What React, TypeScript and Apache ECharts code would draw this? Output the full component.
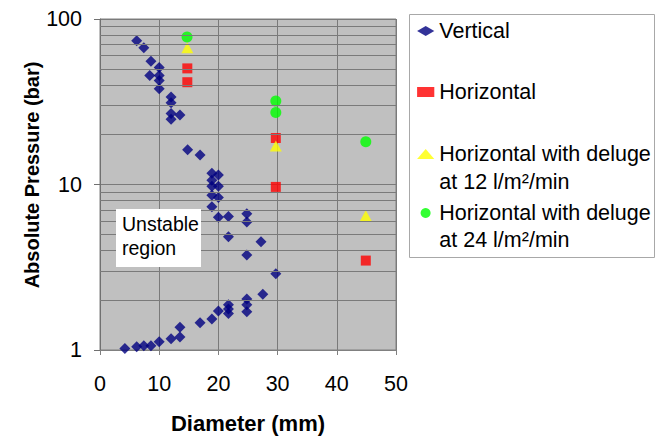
import React, { useEffect, useRef } from "react";
import * as echarts from "echarts";

const FONT = "'Liberation Sans', Arial, sans-serif";

// Vertical release (diamonds)
const verticalDiameter = [
  6.2, 7.4, 8.6, 10.0, 8.4, 10.0, 10.0, 10.0, 12.0, 12.0, 12.0, 13.5, 12.0,
  14.8, 16.9, 18.9, 20.0, 18.9, 18.9, 20.0, 18.9, 20.0, 18.9, 20.0, 21.7, 21.7,
  24.8, 24.8, 27.2, 24.8,
  4.2, 6.2, 7.4, 8.6, 10.0, 12.0, 13.5, 13.5, 16.9, 18.9, 20.0, 21.7, 21.7, 21.7,
  24.8, 24.8, 24.8, 27.5, 29.7,
];
const verticalPressure = [
  74, 67, 55.6, 51, 45.5, 45.5, 42.5, 37.9, 33.8, 31.2, 26.9, 26.3, 24.8,
  16.2, 15.1, 11.7, 11.4, 10.6, 9.76, 9.76, 8.6, 8.35, 7.35, 6.35, 6.4, 4.83,
  6.66, 5.93, 4.51, 3.75,
  1.02, 1.045, 1.06, 1.06, 1.12, 1.17, 1.2, 1.37, 1.46, 1.54, 1.72, 1.66, 1.77, 1.88,
  1.7, 1.875, 2.03, 2.17, 2.89,
];

// Horizontal release (squares)
const horizontalDiameter = [14.75, 14.75, 29.7, 29.7, 44.9];
const horizontalPressure = [50.3, 41.5, 19.1, 9.67, 3.47];

// Horizontal with deluge at 12 l/m2/min (triangles)
const deluge12Diameter = [14.75, 29.7, 44.9];
const deluge12Pressure = [67, 17.1, 6.48];

// Horizontal with deluge at 24 l/m2/min (circles)
const deluge24Diameter = [14.7, 29.7, 29.7, 44.9];
const deluge24Pressure = [77.9, 31.9, 27.2, 18.1];

// Log-axis minor gridlines
const minorGridValues = [2, 3, 4, 5, 6, 7, 8, 9, 20, 30, 40, 50, 60, 70, 80, 90];

const xTicks = { min: 0, max: 50, interval: 10 };

const NAME_V = "Vertical";
const NAME_H = "Horizontal";
const NAME_D12 = "Horizontal with deluge at 12 l/m²/min";
const NAME_D24 = "Horizontal with deluge at 24 l/m²/min";

const zip = (xs: number[], ys: number[]) => xs.map((x, i) => [x, ys[i]]);

export default function App() {
  const ref = useRef<HTMLDivElement>(null);

  useEffect(() => {
    document.body.style.margin = "0";
    const chart = echarts.init(ref.current!, null, { renderer: "svg" });
    const gridColor = "#7a7a7a";
    const legendBase = {
      orient: "vertical",
      padding: 0,
      itemWidth: 17.2,
      itemHeight: 10,
      itemGap: 0,
      selectedMode: false,
      left: 417.1,
      textStyle: { fontSize: 21.5, color: "#000", fontFamily: FONT, lineHeight: 24 },
    };
    chart.setOption({
      animation: false,
      backgroundColor: "#ffffff",
      textStyle: { fontFamily: FONT },
      grid: {
        left: 100,
        right: 261,
        top: 19,
        bottom: 83,
        show: true,
        backgroundColor: "#C0C0C0",
        borderColor: "#808080",
        borderWidth: 1,
      },
      xAxis: {
        type: "value",
        min: xTicks.min,
        max: xTicks.max,
        interval: xTicks.interval,
        name: "Diameter (mm)",
        nameLocation: "middle",
        nameGap: 62,
        nameTextStyle: { fontSize: 22, fontWeight: "bold", color: "#000", fontFamily: FONT },
        axisLine: { show: true, onZero: false, lineStyle: { color: "#808080" } },
        axisTick: { show: true, length: 5, lineStyle: { color: "#808080" } },
        axisLabel: { fontSize: 21.5, color: "#000", margin: 23, fontFamily: FONT },
        splitLine: { show: true, lineStyle: { color: gridColor, width: 1 } },
      },
      yAxis: {
        type: "log",
        logBase: 10,
        min: 1,
        max: 100,
        name: "Absolute Pressure (bar)",
        nameLocation: "middle",
        nameGap: 58,
        nameTextStyle: {
          fontSize: 20,
          fontWeight: "bold",
          color: "#000",
          fontFamily: FONT,
          padding: [0, 0, 0, 19],
        },
        axisLine: { show: true, lineStyle: { color: "#707070" } },
        axisTick: { show: true, length: 6, lineStyle: { color: "#707070" } },
        axisLabel: { fontSize: 21.5, color: "#000", margin: 18, fontFamily: FONT },
        splitLine: { show: true, lineStyle: { color: gridColor, width: 1 } },
      },
      legend: [
        { ...legendBase, top: 19, data: [NAME_V] },
        { ...legendBase, top: 80, data: [NAME_H] },
        { ...legendBase, top: 142, data: [NAME_D12], formatter: () => "Horizontal with deluge" },
        { ...legendBase, left: 420.6, top: 201, data: [NAME_D24], formatter: () => "Horizontal with deluge" },
      ],
      graphic: [
        {
          type: "rect",
          z: 1,
          shape: { x: 409.5, y: 14.5, width: 245, height: 243 },
          style: { fill: "none", stroke: "#A8A8A8", lineWidth: 1 },
        },
        {
          type: "text",
          z: 5,
          x: 439.3,
          y: 181.7,
          style: { text: "at 12 l/m²/min", fontSize: 21.5, fontFamily: FONT, fill: "#000", verticalAlign: "middle", align: "left" },
        },
        {
          type: "text",
          z: 5,
          x: 439.3,
          y: 240,
          style: { text: "at 24 l/m²/min", fontSize: 21.5, fontFamily: FONT, fill: "#000", verticalAlign: "middle", align: "left" },
        },
        {
          type: "rect",
          z: 10,
          shape: { x: 116, y: 209, width: 85, height: 58 },
          style: { fill: "#ffffff", stroke: "none" },
        },
        {
          type: "text",
          z: 11,
          x: 122,
          y: 224,
          style: { text: "Unstable", fontSize: 19.5, fontFamily: FONT, fill: "#000", verticalAlign: "middle", align: "left" },
        },
        {
          type: "text",
          z: 11,
          x: 122,
          y: 248,
          style: { text: "region", fontSize: 19.5, fontFamily: FONT, fill: "#000", verticalAlign: "middle", align: "left" },
        },
      ],
      series: [
        {
          name: "minor-grid",
          type: "scatter",
          data: [],
          silent: true,
          z: 1,
          markLine: {
            silent: true,
            symbol: ["none", "none"],
            label: { show: false },
            emphasis: { disabled: true },
            lineStyle: { color: gridColor, width: 1, type: "solid" },
            data: minorGridValues.map((v) => ({ yAxis: v })),
          },
        },
        {
          name: NAME_V,
          type: "scatter",
          symbol: "diamond",
          symbolSize: 11,
          z: 3,
          itemStyle: { color: "#000080" },
          data: zip(verticalDiameter, verticalPressure),
        },
        {
          name: NAME_H,
          type: "scatter",
          symbol: "rect",
          symbolSize: 10,
          z: 3,
          itemStyle: { color: "#FF0000" },
          data: zip(horizontalDiameter, horizontalPressure),
        },
        {
          name: NAME_D12,
          type: "scatter",
          symbol: "triangle",
          symbolSize: [12, 11],
          z: 3,
          itemStyle: { color: "#FFFF00" },
          data: zip(deluge12Diameter, deluge12Pressure),
        },
        {
          name: NAME_D24,
          type: "scatter",
          symbol: "circle",
          symbolSize: 11,
          z: 3,
          itemStyle: { color: "#00FF00" },
          data: zip(deluge24Diameter, deluge24Pressure),
        },
      ],
    });
    return () => chart.dispose();
  }, []);

  return (
    <div
      ref={ref}
      style={{ position: "fixed", left: 0, top: 0, width: 657, height: 439, background: "#fff" }}
    />
  );
}
